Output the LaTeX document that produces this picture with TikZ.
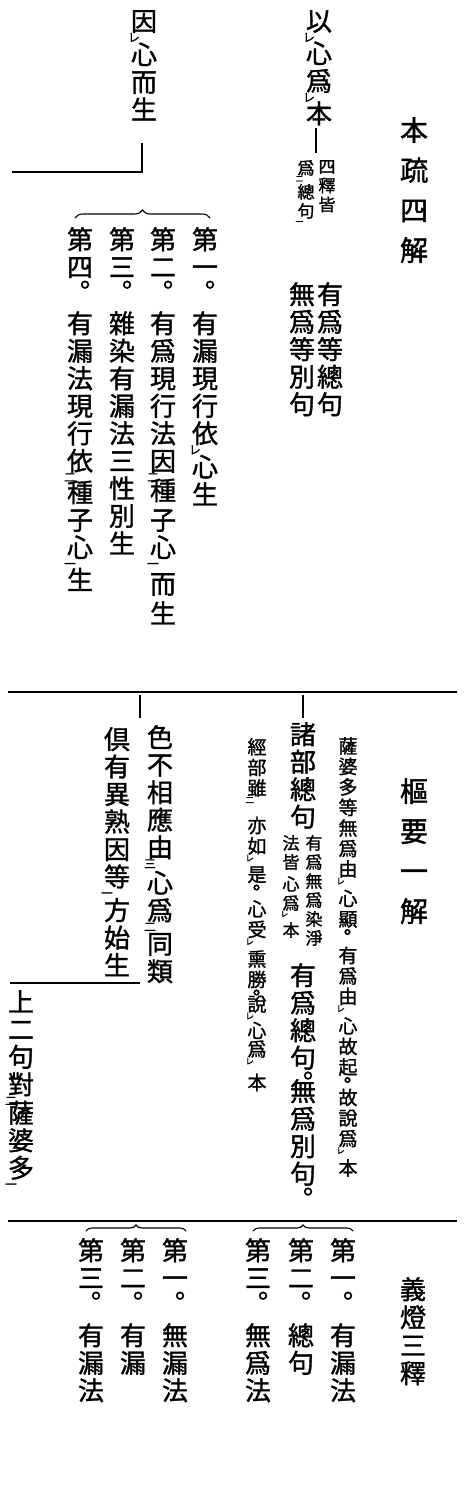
\documentclass[tikz,border=0pt]{standalone}
\usepackage{fontspec}
\usepackage{graphicx}
\newfontfamily\cjk[FakeBold=1.3]{Noto Sans CJK JP}
\usetikzlibrary{decorations.pathreplacing}
% kaeriten at the lower left of a character
\newcommand{\kr}[1]{\makebox[0pt][r]{\smash{\raisebox{-0.42em}{\scalebox{0.45}{#1}}}\hspace{0.66em}}}
% full stop under a character
\newcommand{\jd}[1][0.5em]{\makebox[0pt][l]{\hspace{-#1}\smash{\raisebox{-0.4em}{。}}}}

\begin{document}
\begin{tikzpicture}[x=1pt, y=-1pt,
    main/.style = {anchor=north, align=center, inner sep=0pt, font=\cjk\fontsize{26}{27.5}\selectfont},
    head/.style = {main, font=\cjk\fontsize{28}{40}\selectfont},
    gloss/.style = {main, font=\cjk\fontsize{19}{20.5}\selectfont},
    note/.style = {main, font=\cjk\fontsize{17}{19}\selectfont},
    rule/.style = {line width=1.4pt},
    topbrace/.style = {decorate, decoration={brace, amplitude=#1}, line width=1.1pt}]

	\fill[white] (0,0) rectangle (466,1507);
	\useasboundingbox (0,0) rectangle (466,1507);

	% 本疏四解
	\node[head] (benshu) at (414,117) {本\\疏\\四\\解};
	\node[main] (yixin) at (319,10) {以\kr{レ}\\[5pt]心\\爲\kr{レ}\\[5pt]本};
	\node[note] (sishi) at (327,160) {四\\釋\\皆};
	\node[note] (weizong) at (306,160) {爲\kr{二}\\[5pt]總\\句\kr{一}};
	\node[main] (youwei) at (330,282) {有\\爲\\等\\總\\句};
	\node[main] (wuwei) at (302,282) {無\\爲\\等\\別\\句};
	\coordinate (yx1) at (316,128);
	\coordinate (yx2) at (316,153);
	\draw[rule] (yx1) -- (yx2);

	\node[main] (yinxin) at (144,10) {因\kr{レ}\\[6pt]心\\而\\生};
	\coordinate (yn1) at (142,143);
	\coordinate (yn2) at (142,172);
	\coordinate (yn3) at (12,172);
	\draw[rule] (yn1) -- (yn2) -- (yn3);
	\coordinate (bl1) at (75,218);
	\coordinate (br1) at (210,218);
	\draw[topbrace=8pt] (bl1) -- (br1);

	\node[main] (di1) at (205,227) {第\\一\jd\\[29pt]有\\漏\\現\\行\\依\kr{レ}\\[6pt]心\\生};
	\node[main] (di2) at (163,227) {第\\二\jd\\[29pt]有\\爲\\現\\行\\法\\因\kr{二}\\[2pt]種\\[2pt]子\\心\kr{一}\\[9pt]而\\[2pt]生};
	\node[main] (di3) at (122,227) {第\\三\jd\\[29pt]雜\\染\\有\\漏\\法\\三\\性\\別\\生};
	\node[main] (di4) at (80,227) {第\\四\jd\\[29pt]有\\漏\\法\\現\\行\\依\kr{二}\\[4pt]種\\子\\心\kr{一}\\[5pt]生};

	% 樞要一解
	\coordinate (s2w) at (8,692);
	\coordinate (s2e) at (457,692);
	\draw[rule] (s2w) -- (s2e);
	\node[head] (shuyao) at (414,778) {樞\\要\\一\\解};
	\node[gloss] (sapo) at (348,737) {薩\\婆\\多\\等\\無\\爲\\由\kr{レ}\\[9pt]心\\顯\jd[0.72em]\\[16pt]有\\爲\\由\kr{レ}\\[9pt]心\\故\\起\jd[0.72em]\\[10pt]故\\說\\爲\kr{レ}\\[9pt]本};

	\coordinate (t1a) at (303,695);
	\coordinate (t1b) at (303,718);
	\draw[rule] (t1a) -- (t1b);
	\node[main] (zhubu) at (303,722) {諸\\部\\總\\句};
	\node[note] (ranjing) at (314,835) {有\\爲\\無\\爲\\染\\淨};
	\node[note] (faijie) at (291,835) {法\\皆\\[3pt]心\\爲\kr{レ}\\[8pt]本};
	\node[main] (zongju) at (303,963) {有\\爲\\總\\句\jd\\[6pt]無\\爲\\別\\句\jd};
	\node[gloss] (jingbu) at (257,738) {經\\部\\雖\kr{二}\\[17pt]亦\\如\kr{レ}\\[8pt]是\jd[0.72em]\\[14pt]心\\受\kr{レ}\\[9pt]熏\\勝\jd[0.72em]\\[4pt]說\kr{レ}\\[6pt]心\\[-2pt]爲\kr{レ}\\[13pt]本};

	\coordinate (t2a) at (140,695);
	\coordinate (t2b) at (140,718);
	\draw[rule] (t2a) -- (t2b);
	\node[main] (sebu) at (160,725) {色\\不\\相\\應\\由\kr{三}\\[8pt]心\\爲\kr{二}\\[6pt]同\\類};
	\node[main] (juyou) at (117,727) {倶\\有\\異\\熟\\因\\等\kr{一}\\[6pt]方\\始\\生};
	\coordinate (jy1) at (140,983);
	\coordinate (jy2) at (10,983);
	\draw[rule] (jy1) -- (jy2);
	\node[main] (shang) at (21,990) {上\\二\\句\\對\kr{二}\\[1pt]薩\\婆\\多\kr{一}};

	% 義燈三釋
	\coordinate (s3w) at (8,1221);
	\coordinate (s3e) at (457,1221);
	\draw[rule] (s3w) -- (s3e);
	\node[main, font=\cjk\fontsize{26}{28}\selectfont] (yideng) at (413,1277) {義\\燈\\三\\釋};

	\coordinate (bl2) at (253,1231);
	\coordinate (br2) at (353,1231);
	\draw[topbrace=6pt] (bl2) -- (br2);
	\node[main] (ya1) at (343,1238) {第\\一\jd\\[30pt]有\\漏\\法};
	\node[main] (ya2) at (301,1238) {第\\二\jd\\[30pt]總\\句};
	\node[main] (ya3) at (258,1238) {第\\三\jd\\[30pt]無\\爲\\法};

	\coordinate (bl3) at (86,1231);
	\coordinate (br3) at (186,1231);
	\draw[topbrace=6pt] (bl3) -- (br3);
	\node[main] (yb1) at (175,1238) {第\\一\jd\\[30pt]無\\漏\\法};
	\node[main] (yb2) at (133,1238) {第\\二\jd\\[30pt]有\\漏};
	\node[main] (yb3) at (91,1238) {第\\三\jd\\[30pt]有\\漏\\法};

\end{tikzpicture}
\end{document}
